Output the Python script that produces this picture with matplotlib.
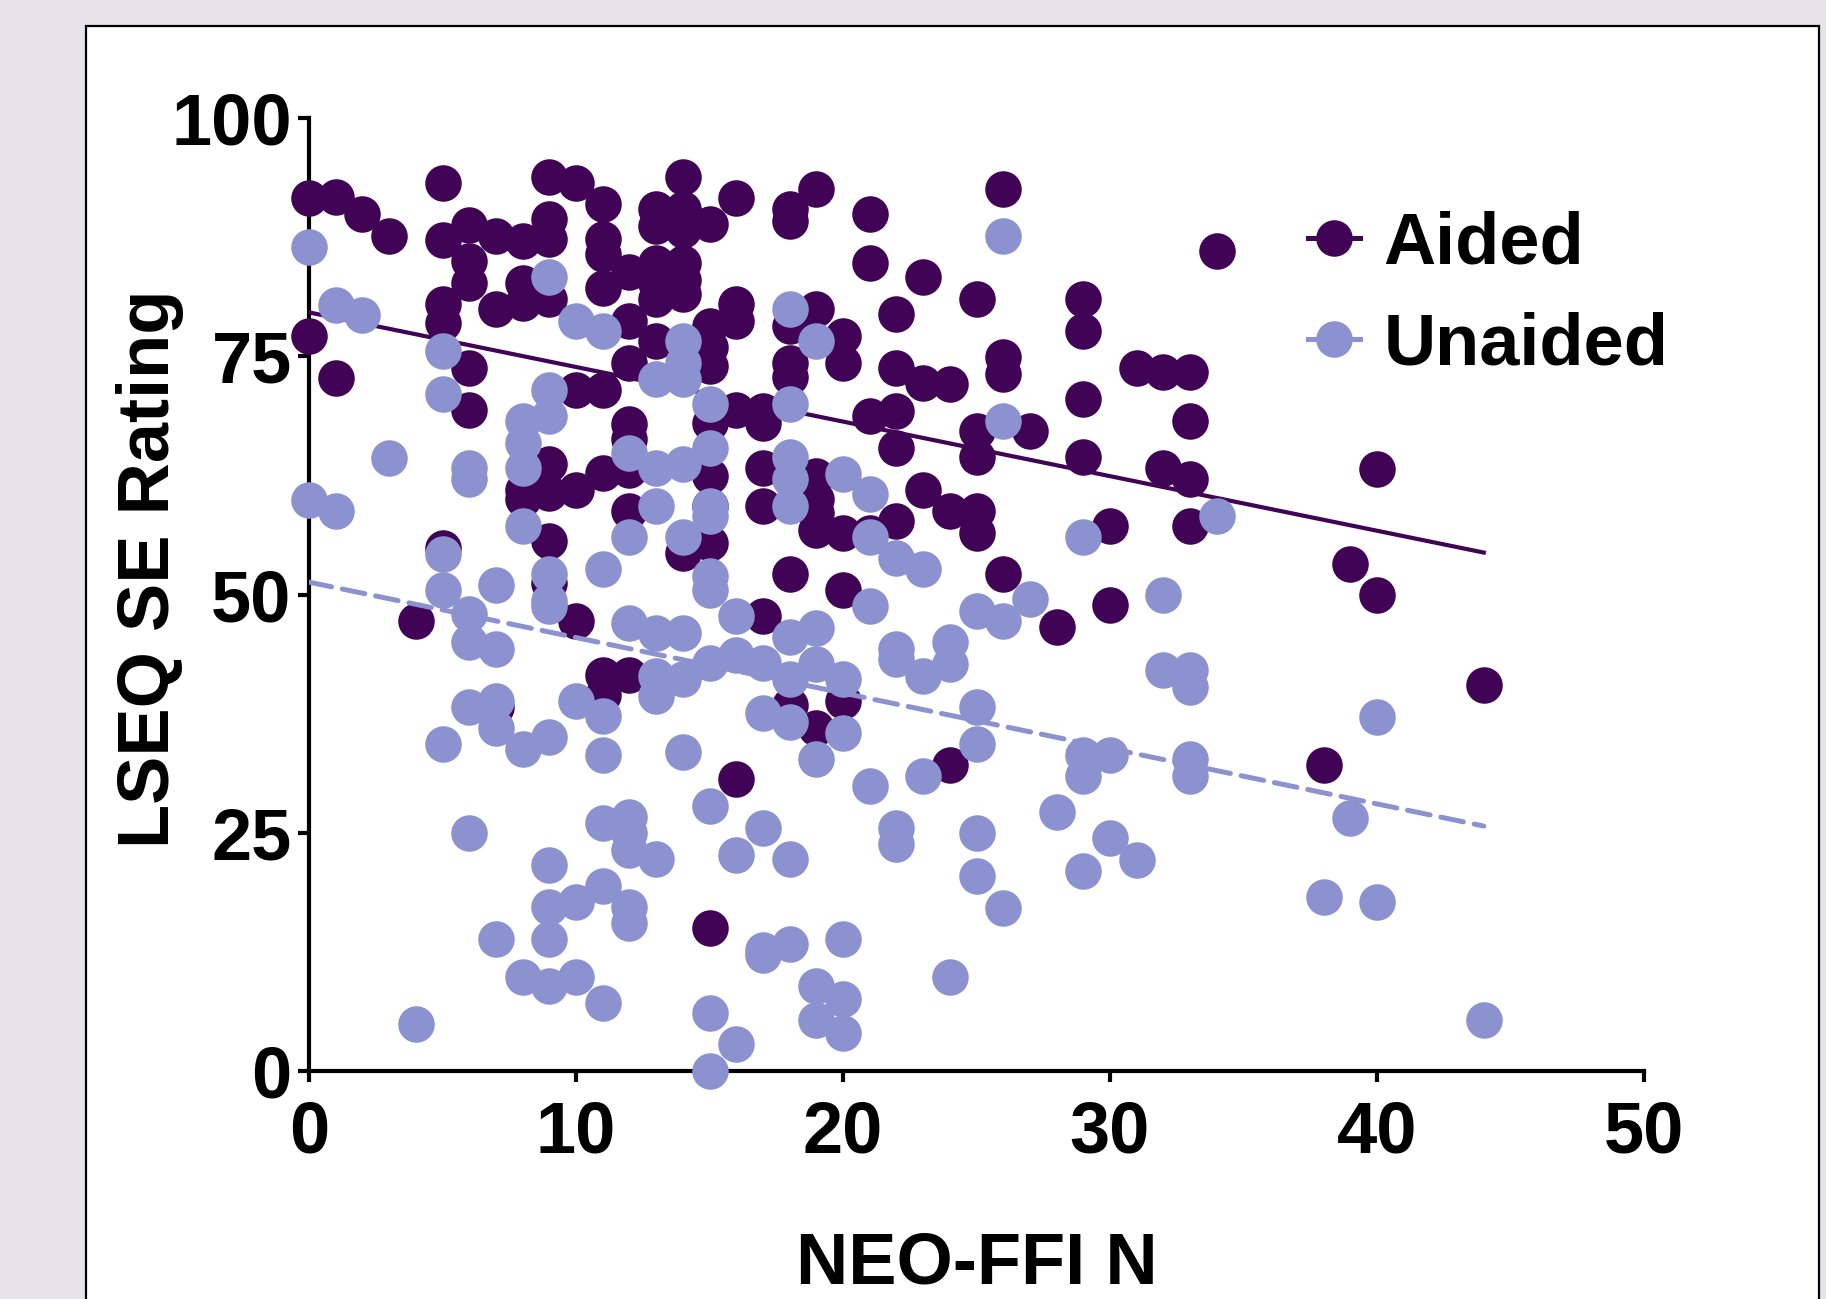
import matplotlib
matplotlib.use("Agg")
import matplotlib.pyplot as plt
from matplotlib.lines import Line2D
from matplotlib.patches import Rectangle

# Values
aided_x = [0, 0, 1, 1, 2, 3, 4, 5, 5, 5, 5, 5,
           6, 6, 6, 6, 6, 7, 7, 7, 8, 8, 8, 8, 8,
           9, 9, 9, 9, 9, 9, 9, 9, 10, 10, 10, 10,
           11, 11, 11, 11, 11, 11, 11, 11,
           12, 12, 12, 12, 12, 12, 12, 12,
           13, 13, 13, 13, 13, 13,
           14, 14, 14, 14, 14, 14, 14,
           15, 15, 15, 15, 15, 15, 15, 15, 15,
           16, 16, 16, 16, 16, 17, 17, 17, 17, 17,
           18, 18, 18, 18, 18, 18, 18,
           19, 19, 19, 19, 19, 19, 19,
           20, 20, 20, 20, 20, 21, 21, 21, 21,
           22, 22, 22, 22, 22, 23, 23, 23,
           24, 24, 24, 25, 25, 25, 25, 25,
           26, 26, 26, 26, 27, 28, 29, 29, 29, 29,
           30, 30, 31, 32, 32, 33, 33, 33, 33,
           34, 38, 39, 40, 40, 44]
aided_y = [91.6, 77.1, 91.7, 72.7, 89.9, 87.6, 47.2, 93.2, 87.2, 80.5, 78.5, 54.9,
           88.8, 85, 82.7, 73.8, 69.4, 87.6, 80, 38.2, 87.1, 82.7, 80.6, 61, 60,
           93.8, 89.4, 87.3, 81, 63.7, 60.7, 55.6, 51.2, 93.2, 71.5, 61, 47.2,
           91, 87.3, 85.7, 82.2, 71.5, 62.8, 41.6, 39.5,
           83.8, 78.7, 74.3, 67.9, 66.3, 63.1, 58.8, 41.6,
           90.4, 88.7, 84.8, 82.7, 81, 76.6,
           93.8, 90.4, 88.3, 84.8, 83, 81.5, 54.4,
           88.9, 78.2, 76, 74, 68, 62.4, 59.3, 55.4, 15,
           91.6, 80.5, 78.7, 69.4, 30.6, 69.3, 68, 63.3, 59.3, 47.7,
           90.4, 89.2, 78.2, 74.3, 72.8, 52.1, 38.4,
           92.6, 80, 62.4, 60, 56.8, 36, 58.5,
           77.1, 74.3, 56.5, 50.5, 38.8, 89.9, 84.8, 68.7, 56.5,
           79.4, 73.8, 69.3, 65.4, 57.7, 83.3, 72.2, 61,
           72.1, 58.8, 32.1, 81, 67.2, 64.4, 58.8, 56.5,
           92.6, 74.9, 73.1, 52.1, 67.2, 46.6, 81, 77.7, 70.5, 64.4,
           57.2, 48.9, 73.8, 73.3, 63.3, 73.3, 68.2, 62.1, 57.2,
           86, 32.1, 53.2, 63.2, 49.9, 40.5]

unaided_x = [0, 0, 1, 1, 2, 3, 4, 5, 5, 5, 5, 5,
             6, 6, 6, 6, 6, 6, 7, 7, 7, 7, 7,
             8, 8, 8, 8, 8, 8,
             9, 9, 9, 9, 9, 9, 9, 9, 9, 9, 9,
             10, 10, 10, 10, 11, 11, 11, 11, 11, 11, 11,
             12, 12, 12, 12, 12, 12, 12, 12,
             13, 13, 13, 13, 13, 13, 13,
             14, 14, 14, 14, 14, 14, 14, 14,
             15, 15, 15, 15, 15, 15, 15, 15, 15, 15,
             16, 16, 16, 16, 17, 17, 17, 17, 17,
             18, 18, 18, 18, 18, 18, 18, 18, 18, 18,
             19, 19, 19, 19, 19, 19,
             20, 20, 20, 20, 20, 20,
             21, 21, 21, 21, 22, 22, 22, 22, 22,
             23, 23, 23, 24, 24, 24, 25, 25, 25, 25, 25,
             26, 26, 26, 26, 27, 28, 29, 29, 29, 29,
             30, 30, 31, 32, 32, 33, 33, 33, 33,
             34, 38, 39, 40, 40, 44]
unaided_y = [86.5, 59.9, 80.4, 58.8, 79.3, 64.3, 4.9, 75.5, 71, 54.2, 50.5, 34.3,
             63.3, 62.1, 48, 45, 38.2, 25, 51, 44.3, 38.8, 36, 13.8,
             68.2, 65.9, 63.3, 57.2, 33.8, 9.9,
             83.3, 71.5, 68.7, 52.1, 49.3, 48.8, 35, 21.6, 17.2, 13.8, 8.9,
             78.7, 38.8, 17.7, 9.9, 77.7, 52.7, 37.2, 33.2, 26, 19.4, 7.1,
             64.9, 56, 47, 26.7, 25, 23.2, 17.2, 15.5,
             72.6, 63.3, 59.3, 46, 41.4, 39.3, 22.2,
             76.6, 74.3, 72.6, 63.7, 56, 46, 41.1, 33.5,
             70, 65.4, 59.3, 58.2, 51.9, 50.5, 42.8, 27.8, 6.1, 0,
             47.7, 43.7, 22.7, 2.8, 42.8, 37.6, 25.5, 12.7, 12.2,
             80, 70, 64.4, 62.1, 59.3, 45.5, 41.1, 36.6, 22.2, 13.3,
             76.6, 46.5, 42.7, 32.7, 8.9, 5.4,
             62.6, 41.1, 35.5, 13.8, 7.6, 4,
             60.5, 56, 48.8, 29.9, 53.8, 44.3, 43.2, 25.5, 23.8,
             52.7, 41.5, 31, 45, 42.7, 9.9, 48.3, 38.2, 34.3, 25, 20.5,
             87.6, 68.2, 47.2, 17.1, 49.5, 27.2, 56, 33.2, 31, 21,
             33.2, 24.4, 22.1, 49.9, 42.1, 42.1, 40.3, 32.7, 31,
             58.2, 18.3, 26.6, 37.1, 17.7, 5.4]

aided_fit_x = [0, 44]
aided_fit_y = [79.6, 54.4]
unaided_fit_x = [0, 44]
unaided_fit_y = [51.3, 25.7]

x_ticks = [0, 10, 20, 30, 40, 50]
y_ticks = [0, 25, 50, 75, 100]

AIDED = "#400355"
UNAIDED = "#8B92CF"
W, H = 1826, 1299

plt.rcParams["font.family"] = ["Liberation Sans", "DejaVu Sans"]
plt.rcParams["font.weight"] = "bold"

fig = plt.figure(figsize=(W / 100, H / 100), dpi=100, facecolor="#E7E3EA")

# white panel with the black frame, runs off the bottom of the image
fig.add_artist(Rectangle((86 / W, -0.02), (1819 - 86) / W, 1.02 - 26 / H,
                         transform=fig.transFigure, facecolor="white",
                         edgecolor="black", linewidth=1.6, zorder=-1))

left, right, top, bottom = 309, 1644, 118, 1071
ax = fig.add_axes([left / W, 1 - bottom / H, (right - left) / W, (bottom - top) / H])
ax.patch.set_alpha(0)
ax.set_xlim(0, 50)
ax.set_ylim(0, 100)
ax.spines["top"].set_visible(False)
ax.spines["right"].set_visible(False)
ax.spines["left"].set_linewidth(3)
ax.spines["bottom"].set_linewidth(3)
ax.set_xticks(x_ticks)
ax.set_yticks(y_ticks)
ax.tick_params(width=3, length=8, labelsize=52)
ax.tick_params(axis="x", pad=12.5)
ax.tick_params(axis="y", pad=4.5)

ax.set_xlabel("NEO-FFI N", fontsize=52, fontweight="bold", labelpad=45.5)
ax.set_ylabel("LSEQ SE Rating", fontsize=52, fontweight="bold")
ax.yaxis.set_label_coords(-0.0934, 0.527)

ms = 26.3
ax.plot(aided_x, aided_y, "o", color=AIDED, ms=ms, mew=0, clip_on=False, zorder=3)
ax.plot(aided_fit_x, aided_fit_y, "-", color=AIDED, lw=3, zorder=4)
ax.plot(unaided_fit_x, unaided_fit_y, color=UNAIDED, lw=3.6, ls=(0, (4.6, 2.2)),
        dash_capstyle="round", zorder=4)
ax.plot(unaided_x, unaided_y, "o", color=UNAIDED, ms=ms, mew=0, clip_on=False, zorder=5)

handles = [
    Line2D([], [], color=AIDED, lw=3.6, marker="o", ms=ms, mew=0),
    Line2D([], [], color=UNAIDED, lw=3.6, marker="o", ms=ms, mew=0),
]
ax.legend(handles, ["Aided", "Unaided"], loc="upper left",
          bbox_to_anchor=(0.748, 0.903), frameon=False, fontsize=52,
          handlelength=0.72, handletextpad=0.33, labelspacing=0.46,
          borderpad=0, borderaxespad=0)

fig.savefig("out.png", dpi=100, facecolor=fig.get_facecolor())
